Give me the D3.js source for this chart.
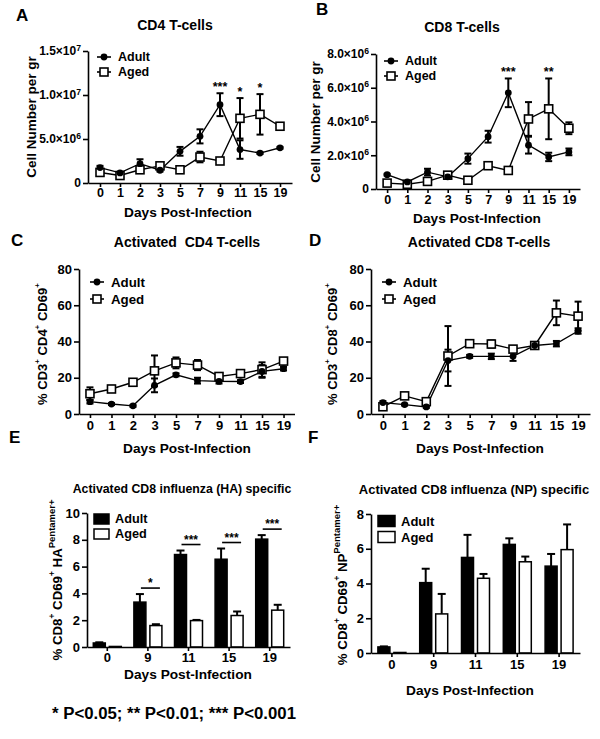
<!DOCTYPE html>
<html><head><meta charset="utf-8">
<script src="https://cdn.jsdelivr.net/npm/d3@7"></script>
<style>
body{margin:0;background:#fff}
svg text{font-family:"Liberation Sans",Arial,sans-serif;font-weight:bold;fill:#000}
</style>
</head><body>
<svg id="c" width="600" height="739"></svg>
<script>
// ---------------- DATA ----------------
const days = ["0","1","2","3","5","7","9","11","15","19"];
const seriesNames = ["Adult","Aged"];

// A: CD4 T-cells (cells per gr)
const cd4Adult    = [1.75e6,1.15e6,2.2e6,1.45e6,3.6e6,5.3e6,8.9e6,3.8e6,3.4e6,4.0e6];
const cd4AdultErr = [0.2e6,0.1e6,0.5e6,0.15e6,0.5e6,0.8e6,1.3e6,1.05e6,0.1e6,0.1e6];
const cd4Aged     = [1.2e6,0.85e6,1.5e6,1.95e6,1.5e6,2.95e6,2.5e6,7.35e6,7.8e6,6.45e6];
const cd4AgedErr  = [0.2e6,0.1e6,0.2e6,0.3e6,0.35e6,0.6e6,0.1e6,2.3e6,2.3e6,0.3e6];
const cd4Sig      = ["","","","","","","***","*","*",""];
const cd4Ticks    = [0,5e6,1e7,1.5e7];

// B: CD8 T-cells
const cd8Adult    = [0.85e6,0.42e6,1.0e6,0.72e6,1.8e6,3.1e6,5.7e6,2.6e6,1.9e6,2.2e6];
const cd8AdultErr = [0.05e6,0.05e6,0.2e6,0.1e6,0.3e6,0.35e6,0.85e6,0.5e6,0.25e6,0.2e6];
const cd8Aged     = [0.35e6,0.28e6,0.45e6,0.82e6,0.52e6,1.38e6,1.1e6,4.15e6,4.75e6,3.6e6];
const cd8AgedErr  = [0.1e6,0.05e6,0.1e6,0.1e6,0.1e6,0.1e6,0.2e6,1.0e6,1.8e6,0.35e6];
const cd8Sig      = ["","","","","","","***","","**",""];
const cd8Ticks    = [0,2e6,4e6,6e6,8e6];

// C: Activated CD4 (% CD3+CD4+CD69+)
const actCd4Adult    = [6.8,5.5,4.5,15.8,21.6,18.4,18.0,17.9,23.5,25.0];
const actCd4AdultErr = [1.0,0.5,0.5,3.8,0.8,1.6,1.2,0.8,3.5,1.0];
const actCd4Aged     = [11.2,13.8,17.5,23.8,28.2,27.0,20.7,22.3,24.5,29.2];
const actCd4AgedErr  = [3.5,0.8,0.8,8.5,3.0,2.8,1.2,0.8,4.0,1.5];

// D: Activated CD8 (% CD3+CD8+CD69+)
const actCd8Adult    = [6.3,5.2,3.9,29.5,31.8,31.8,31.8,37.8,38.8,45.8];
const actCd8AdultErr = [0.8,0.5,0.5,6.0,0.8,1.5,2.5,1.0,1.5,1.5];
const actCd8Aged     = [4.0,10.0,6.8,32.0,38.8,38.6,35.8,37.8,55.8,54.0];
const actCd8AgedErr  = [1.2,0.8,1.5,16.5,1.5,2.0,1.5,0.8,6.8,8.0];
const pctTicks = [0,20,40,60,80];

// E: HA pentamer+
const barDays   = ["0","9","11","15","19"];
const haAdult    = [0.3,3.35,6.9,6.55,8.05];
const haAdultErr = [0.05,0.6,0.3,0.8,0.3];
const haAged     = [0.04,1.6,1.97,2.35,2.75];
const haAgedErr  = [0,0.1,0.05,0.3,0.4];
const haSig      = ["","*","***","***","***"];
const haTicks    = [0,2,4,6,8,10];

// F: NP pentamer+
const npAdult    = [0.35,4.05,5.5,6.25,5.0];
const npAdultErr = [0.03,0.8,1.3,0.35,0.7];
const npAged     = [0.03,2.25,4.3,5.25,5.95];
const npAgedErr  = [0,1.15,0.25,0.3,1.45];
const npSig      = ["","","","",""];
const npTicks    = [0,2,4,6,8];

// ---------------- DRAWING ----------------
const svg = d3.select("#c");
const FONT = '"Liberation Sans", Arial, sans-serif';
const SW = 1.6;

function styleAxis(g, fs){
  g.attr("font-family", FONT).attr("font-size", fs).attr("font-weight","bold");
  g.selectAll("path,line").attr("stroke","#000").attr("stroke-width",SW);
  g.selectAll("text").attr("fill","#000");
}
function sciTicks(g){
  g.selectAll(".tick text").each(function(d){
    const t = d3.select(this);
    if (d === 0) { t.text("0"); return; }
    const e = Math.floor(Math.log10(d));
    const m = (d / Math.pow(10,e)).toFixed(1);
    t.text(null);
    t.append("tspan").text(m + "×10");
    t.append("tspan").attr("dy","-0.55em").attr("font-size","0.72em").text(e);
  });
}
function text(x,y,str,fs,anchor){
  return svg.append("text").attr("x",x).attr("y",y).attr("font-size",fs)
    .attr("text-anchor",anchor||"middle").text(str);
}
function yLabel(cx, cy, parts, fs){
  const t = svg.append("text").attr("transform",`translate(${cx},${cy}) rotate(-90)`)
    .attr("text-anchor","middle").attr("dominant-baseline","central").attr("font-size",fs);
  parts.forEach(p=>{
    const s = t.append("tspan").text(p.t);
    if (p.sup) s.attr("baseline-shift","super").attr("font-size", p.fs || fs*0.62);
  });
  return t;
}

function linePanel(o){
  const x = d3.scalePoint().domain(days).range([o.x0,o.x1]).padding(o.pad);
  const y = d3.scaleLinear().domain([0,o.yMax]).range([o.yB,o.yT]);
  const gx = svg.append("g").attr("transform",`translate(0,${o.yB})`)
    .call(d3.axisBottom(x).tickSize(4).tickSizeOuter(0).tickPadding(o.xPad));
  styleAxis(gx, o.tickFs);
  const gy = svg.append("g").attr("transform",`translate(${o.x0},0)`)
    .call(d3.axisLeft(y).tickValues(o.ticks).tickSize(5).tickSizeOuter(0).tickPadding(2));
  styleAxis(gy, o.yTickFs || o.tickFs);
  if (o.sci) sciTicks(gy);

  const series = [
    {name:"Aged", v:o.aged, e:o.agedErr, mk:"sq"},
    {name:"Adult", v:o.adult, e:o.adultErr, mk:"ci"}
  ];
  series.forEach(s=>{
    const pts = days.map((d,i)=>({d, v:s.v[i], e:s.e[i]}));
    svg.append("path").datum(pts).attr("fill","none").attr("stroke","#000").attr("stroke-width",1.4)
      .attr("d", d3.line().x(p=>x(p.d)).y(p=>y(p.v)));
    const eb = svg.append("g").attr("stroke","#000").attr("stroke-width",2);
    pts.forEach(p=>{
      if (!p.e) return;
      const cx = x(p.d);
      eb.append("line").attr("x1",cx).attr("x2",cx).attr("y1",y(p.v-p.e)).attr("y2",y(p.v+p.e));
      [p.v-p.e,p.v+p.e].forEach(vv=>eb.append("line").attr("x1",cx-3.5).attr("x2",cx+3.5).attr("y1",y(vv)).attr("y2",y(vv)));
    });
  });
  series.forEach(s=>{
    days.forEach((d,i)=>{
      const cx = x(d), cy = y(s.v[i]);
      if (s.mk==="sq") svg.append("rect").attr("x",cx-4).attr("y",cy-4).attr("width",8).attr("height",8)
        .attr("fill","#fff").attr("stroke","#000").attr("stroke-width",1.6);
      else svg.append("circle").attr("cx",cx).attr("cy",cy).attr("r",3.4).attr("fill","#000");
    });
  });
  if (o.sig){
    o.sig.forEach((s,i)=>{
      if(!s) return;
      const top = Math.max(o.adult[i]+o.adultErr[i], o.aged[i]+o.agedErr[i]);
      text(x(days[i]), y(top)-2, s, 12.5);
    });
  }
  const L = o.leg;
  [["Adult","ci"],["Aged","sq"]].forEach(([n,mk],k)=>{
    const ly = L.y + k*L.dy;
    svg.append("line").attr("x1",L.x).attr("x2",L.x+14).attr("y1",ly).attr("y2",ly).attr("stroke","#000").attr("stroke-width",1.6);
    if (mk==="sq") svg.append("rect").attr("x",L.x+3).attr("y",ly-4).attr("width",8).attr("height",8).attr("fill","#fff").attr("stroke","#000").attr("stroke-width",1.6);
    else svg.append("circle").attr("cx",L.x+7).attr("cy",ly).attr("r",3.4).attr("fill","#000");
    text(L.x+21, ly, n, L.fs, "start").attr("dominant-baseline","central");
  });
  text(o.title[0], o.title[1], o.title[2], 14);
  text(o.letter[0], o.letter[1], o.letter[2], 17, "start");
  text(o.xlab[0], o.xlab[1], "Days Post-Infection", 13.7).attr("dominant-baseline","central");
  yLabel(o.ylab[0], o.ylab[1], o.ylab[2], o.ylab[3]);
}

function barPanel(o){
  const x = d3.scaleBand().domain(barDays).range([o.x0,o.x1]).padding(0);
  const xi = d3.scaleBand().domain(seriesNames).range([-14,14]).paddingInner(0.25);
  const y = d3.scaleLinear().domain([0,o.yMax]).range([o.yB,o.yT]);
  const series = [
    {name:"Adult", v:o.adult, e:o.adultErr, fill:"#000"},
    {name:"Aged", v:o.aged, e:o.agedErr, fill:"#fff"}
  ];
  series.forEach(s=>{
    barDays.forEach((d,i)=>{
      const cx = x(d)+x.bandwidth()/2;
      const bx = cx + xi(s.name), bw = xi.bandwidth();
      const top = y(s.v[i]);
      if (s.e[i]>0){
        const et = y(s.v[i]+s.e[i]);
        svg.append("line").attr("x1",bx+bw/2).attr("x2",bx+bw/2).attr("y1",top).attr("y2",et).attr("stroke","#000").attr("stroke-width",2);
        svg.append("line").attr("x1",bx+bw/2-4).attr("x2",bx+bw/2+4).attr("y1",et).attr("y2",et).attr("stroke","#000").attr("stroke-width",2);
      }
      svg.append("rect").attr("x",bx).attr("y",top).attr("width",bw).attr("height",Math.max(0,o.yB-top))
        .attr("fill",s.fill).attr("stroke","#000").attr("stroke-width",1.5);
    });
  });
  const gx = svg.append("g").attr("transform",`translate(0,${o.yB})`)
    .call(d3.axisBottom(x).tickSize(4).tickSizeOuter(0).tickPadding(o.xPad));
  styleAxis(gx, o.tickFs);
  const gy = svg.append("g").attr("transform",`translate(${o.x0},0)`)
    .call(d3.axisLeft(y).tickValues(o.ticks).tickSize(5).tickSizeOuter(0).tickPadding(2));
  styleAxis(gy, o.tickFs);
  o.sig.forEach((s,i)=>{
    if(!s) return;
    const cx = x(barDays[i])+x.bandwidth()/2;
    const top = Math.max(o.adult[i]+o.adultErr[i], o.aged[i]+o.agedErr[i]);
    const ly = y(top) - 6;
    svg.append("line").attr("x1",cx-7).attr("x2",cx+12).attr("y1",ly).attr("y2",ly).attr("stroke","#000").attr("stroke-width",1.6);
    text(cx+2.5, ly-1, s, 12);
  });
  const L = o.leg;
  [["Adult","#000"],["Aged","#fff"]].forEach(([n,f],k)=>{
    const ly = L.y + k*L.dy;
    svg.append("rect").attr("x",L.x).attr("y",ly-L.h/2).attr("width",L.w).attr("height",L.h)
      .attr("fill",f).attr("stroke","#000").attr("stroke-width",1.5);
    text(L.x+L.w+6, ly, n, L.fs, "start").attr("dominant-baseline","central");
  });
  text(o.title[0], o.title[1], o.title[2], o.title[3]);
  text(o.letter[0], o.letter[1], o.letter[2], 17, "start");
  text(o.xlab[0], o.xlab[1], "Days Post-Infection", 13.7).attr("dominant-baseline","central");
  yLabel(o.ylab[0], o.ylab[1], o.ylab[2], o.ylab[3]);
}

const plus = {t:"+", sup:true};
linePanel({x0:88,x1:292,pad:0.6,yB:183,yT:51,yMax:1.5e7,ticks:cd4Ticks,sci:true,tickFs:12.5,yTickFs:12,xPad:1,
  adult:cd4Adult,adultErr:cd4AdultErr,aged:cd4Aged,agedErr:cd4AgedErr,sig:cd4Sig,
  leg:{x:97,y:57,dy:15,fs:12.5},
  title:[175,30,"CD4 T-cells"], letter:[16,21,"A"], xlab:[188,212],
  ylab:[31,117,[{t:"Cell Number per gr"}],13.5]});
linePanel({x0:376,x1:580,pad:0.55,yB:189,yT:54,yMax:8e6,ticks:cd8Ticks,sci:true,tickFs:12.5,yTickFs:12,xPad:2,
  adult:cd8Adult,adultErr:cd8AdultErr,aged:cd8Aged,agedErr:cd8AgedErr,sig:cd8Sig,
  leg:{x:384,y:61,dy:15,fs:12.5},
  title:[462,32,"CD8 T-cells"], letter:[316,15,"B"], xlab:[477,218],
  ylab:[315,122,[{t:"Cell Number per gr"}],13.5]});
linePanel({x0:79,x1:294.5,pad:0.51,yB:414,yT:269,yMax:80,ticks:pctTicks,tickFs:13,xPad:3,
  adult:actCd4Adult,adultErr:actCd4AdultErr,aged:actCd4Aged,agedErr:actCd4AgedErr,sig:null,
  leg:{x:90,y:282,dy:17,fs:13.3},
  title:[187,247,"Activated\u00a0\u00a0CD4 T-cells"], letter:[11,246,"C"], xlab:[187,448],
  ylab:[42,344,[{t:"% CD3"},plus,{t:" CD4"},plus,{t:" CD69"},plus],13]});
linePanel({x0:371,x1:590,pad:0.55,yB:414,yT:269,yMax:80,ticks:pctTicks,tickFs:13,xPad:3,
  adult:actCd8Adult,adultErr:actCd8AdultErr,aged:actCd8Aged,agedErr:actCd8AgedErr,sig:null,
  leg:{x:382,y:282,dy:17,fs:13.3},
  title:[479,247,"Activated CD8 T-cells"], letter:[309,246,"D"], xlab:[480,448],
  ylab:[332,344,[{t:"% CD3"},plus,{t:" CD8"},plus,{t:" CD69"},plus],13]});
barPanel({x0:87,x1:290,yB:647,yT:513,yMax:10,ticks:haTicks,tickFs:13,xPad:2,
  adult:haAdult,adultErr:haAdultErr,aged:haAged,agedErr:haAgedErr,sig:haSig,
  leg:{x:94,y:519,dy:15,w:15,h:10,fs:12.7},
  title:[182,493,"Activated CD8 influenza (HA) specific",12.3], letter:[9,443,"E"], xlab:[188,674],
  ylab:[57,580,[{t:"% CD8"},plus,{t:" CD69"},plus,{t:" HA"},{t:"Pentamer+",sup:true,fs:9.5}],13.3]});
barPanel({x0:371,x1:580,yB:653,yT:514,yMax:8,ticks:npTicks,tickFs:13,xPad:3,
  adult:npAdult,adultErr:npAdultErr,aged:npAged,agedErr:npAgedErr,sig:npSig,
  leg:{x:378,y:521,dy:16,w:17,h:11,fs:13},
  title:[474,494,"Activated CD8 influenza (NP) specific",13], letter:[308,443,"F"], xlab:[470,690],
  ylab:[342,585,[{t:"% CD8"},plus,{t:" CD69"},plus,{t:" NP"},{t:"Pentamer+",sup:true,fs:9.5}],13.3]});

svg.append("text").attr("x",52).attr("y",719).attr("font-size",16.8)
  .attr("font-family",'Lato, "Open Sans", sans-serif').attr("font-weight","bold")
  .text("* P<0.05; ** P<0.01; *** P<0.001");
</script>
</body></html>
